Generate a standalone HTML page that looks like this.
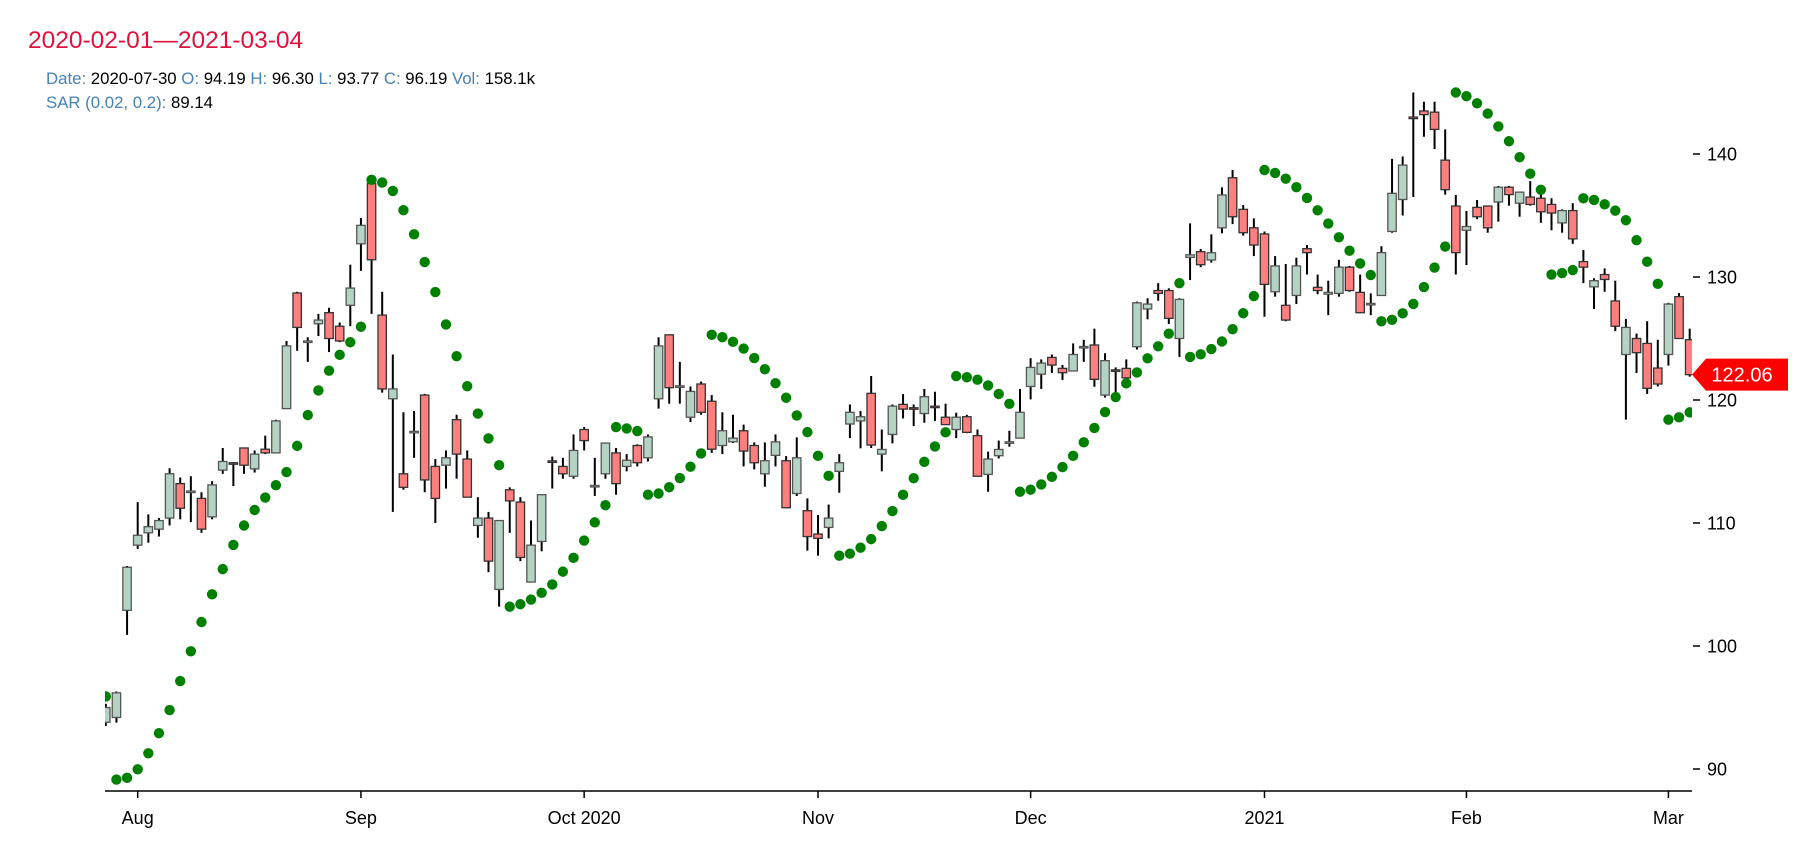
<!DOCTYPE html>
<html><head><meta charset="utf-8"><title>Candlestick chart with Parabolic SAR</title>
<style>
html,body{margin:0;padding:0;background:#fff;}
svg{display:block;font-family:"Liberation Sans",Arial,sans-serif;}
</style></head>
<body>
<svg id="chart" width="1798" height="842" viewBox="0 0 1798 842">
  <text x="28" y="48" font-size="24.5" fill="#dc143c">2020-02-01—2021-03-04</text>
  <text x="46" y="84" font-size="16.8"><tspan fill="#4682b4">Date: </tspan><tspan fill="#000">2020-07-30 </tspan><tspan fill="#4682b4">O: </tspan><tspan fill="#000">94.19 </tspan><tspan fill="#4682b4">H: </tspan><tspan fill="#000">96.30 </tspan><tspan fill="#4682b4">L: </tspan><tspan fill="#000">93.77 </tspan><tspan fill="#4682b4">C: </tspan><tspan fill="#000">96.19 </tspan><tspan fill="#4682b4">Vol: </tspan><tspan fill="#000">158.1k</tspan></text>
  <text x="46" y="108" font-size="16.8"><tspan fill="#4682b4">SAR (0.02, 0.2): </tspan><tspan fill="#000">89.14</tspan></text>
  <defs><clipPath id="plotClip"><rect x="105" y="60" width="1587" height="731"/></clipPath></defs>
  <g id="plot" clip-path="url(#plotClip)"></g>
  <g id="axes"></g>
</svg>
<script>
// ---- data ----
const startDate = "2020-07-29";
const holidays = ["2020-09-07","2020-11-26","2020-12-25","2021-01-01","2021-01-18","2021-02-15"];
const open = [93.8,94.19,102.9,
108.2,109.2,109.5,110.4,113.2,112.55,112.0,110.5,114.3,114.9,116.1,114.4,116.0,115.7,119.3,128.7,124.75,126.2,127.1,126.0,127.7,
132.7,137.6,126.9,120.1,114.0,117.35,120.4,114.6,114.7,118.4,115.2,109.8,110.4,104.6,112.7,111.7,105.2,108.5,115.05,114.6,113.8,
117.6,112.95,114.0,115.7,114.6,116.3,115.3,120.1,125.3,121.05,118.6,121.3,119.9,116.3,116.6,117.5,116.3,114.0,115.5,115.06,112.4,111.0,
109.1,109.64,114.2,118.05,118.3,120.54,115.6,117.2,119.64,119.37,118.9,119.5,118.6,117.6,118.64,117.1,113.95,115.47,116.55,116.9,
121.1,122.1,123.46,122.57,122.36,124.25,124.47,120.4,122.45,122.57,124.33,127.4,128.9,128.9,125.0,131.6,132.06,131.38,134.0,138.07,135.5,134.0,
133.5,128.8,127.7,128.5,132.3,129.16,128.6,128.67,130.8,128.75,127.75,128.5,133.7,136.3,143.0,143.5,143.4,139.5,135.77,
133.8,135.66,135.77,136.1,137.3,136.0,136.5,136.4,135.9,134.4,135.4,131.25,129.2,130.2,128.05,123.7,125.0,124.6,122.6,
123.7,128.4,124.9];
const high = [95.3,96.3,106.5,
111.7,110.7,110.4,114.45,113.7,113.8,112.5,113.4,116.1,114.95,116.1,115.9,117.1,118.4,124.8,128.8,125.1,127.0,127.5,126.3,131.0,
134.8,137.9,128.8,123.7,119.0,119.1,120.5,115.2,115.9,118.8,115.9,112.1,110.9,110.2,112.9,112.1,110.2,112.3,115.4,115.3,117.2,
117.8,115.3,116.5,116.1,115.6,116.4,117.2,125.1,125.3,123.1,121.1,121.5,120.4,119.0,118.8,118.0,116.55,116.55,117.2,115.44,116.96,112.0,
110.65,111.5,115.6,119.64,119.1,121.95,117.6,119.64,120.48,119.64,120.9,120.67,119.7,118.97,118.8,117.6,115.8,116.7,117.5,120.9,
123.4,123.3,123.7,122.85,124.6,124.9,125.8,123.8,122.65,123.3,128.0,128.27,129.5,129.08,128.27,134.36,132.28,133.47,137.29,138.7,135.85,134.77,
133.7,131.7,131.06,131.57,132.6,130.2,129.7,131.4,130.9,130.2,128.67,132.5,139.6,139.8,145.0,144.25,144.25,142.0,136.67,
135.37,136.26,135.77,137.4,137.4,136.9,137.8,136.8,136.4,135.5,136.0,132.2,129.9,130.7,129.7,126.6,125.4,126.4,124.9,
127.9,128.7,125.8];
const low = [93.5,93.77,100.9,
107.9,108.4,108.9,109.8,110.3,110.07,109.2,110.3,114.0,113.0,114.0,114.1,115.6,115.7,119.3,124.0,123.1,125.2,123.9,124.7,126.0,
130.5,127.0,120.6,110.9,112.7,115.3,112.5,110.0,112.8,113.6,112.1,108.8,106.0,103.2,109.2,106.9,105.2,107.7,112.8,113.6,113.6,
115.9,112.2,113.6,112.3,114.2,114.6,115.0,119.3,119.7,119.7,118.2,118.8,115.7,115.6,116.5,114.6,114.36,112.95,114.6,111.2,112.2,107.75,
107.34,108.75,112.46,116.9,116.07,116.1,114.2,116.47,118.5,117.88,118.15,118.3,118.0,116.9,117.3,113.8,112.54,115.25,116.2,116.9,
120.05,120.9,122.2,121.63,122.36,123.1,121.08,120.2,120.3,121.8,124.1,126.56,128.07,126.18,123.5,129.75,130.8,131.17,133.55,134.3,133.36,131.7,
126.77,128.4,126.4,127.8,130.2,128.6,126.9,128.4,128.8,127.05,126.9,128.5,133.6,135.0,136.5,141.4,140.4,136.7,130.2,
130.97,134.7,133.6,134.5,135.8,134.9,135.8,134.4,133.8,133.6,132.7,129.5,127.4,128.8,125.6,118.4,122.2,120.5,121.1,
122.8,125.0,121.9];
const close = [95.0,96.19,106.4,
109.0,109.7,110.2,114.0,111.2,112.6,109.5,113.1,115.0,114.85,114.7,115.6,115.7,118.3,124.4,125.9,124.8,126.5,125.0,124.8,129.1,
134.2,131.4,120.9,120.9,112.9,117.45,113.5,112.0,115.3,115.6,112.1,110.4,106.9,110.2,111.8,107.2,108.2,112.3,114.95,114.0,115.9,
116.7,113.05,116.5,113.2,115.1,114.9,117.0,124.4,121.0,121.15,120.7,119.0,116.0,117.5,116.9,115.85,114.9,115.06,116.6,111.24,115.3,108.9,
108.75,110.4,114.9,119.0,118.64,116.34,115.98,119.5,119.26,119.26,120.27,119.4,118.0,118.6,117.37,113.8,115.2,115.98,116.6,119.0,
122.65,123.0,122.84,122.22,123.7,124.35,121.68,123.2,122.4,121.8,127.9,127.8,128.67,126.64,128.18,131.8,131.0,131.97,136.67,134.9,133.6,132.6,
129.4,130.9,126.5,130.9,131.98,128.9,128.75,130.8,128.9,127.1,127.85,131.98,136.8,139.1,142.92,143.2,142.0,137.1,131.98,
134.1,134.9,134.0,137.3,136.7,136.9,135.9,135.3,135.2,135.4,133.1,130.8,129.7,129.8,126.0,125.9,123.85,120.95,121.3,
127.8,125.0,122.06];
const sarSeed = [95.9, 89.14];   // SAR on first two sessions (prior trend from outside the window)
const sarStep = 0.02, sarMax = 0.2;
const yTicks = [90,100,110,120,130,140];
const monthLabels = ["Aug","Sep","Oct 2020","Nov","Dec","2021","Feb","Mar"];

// ---- scales ----
const X0 = 137.7, DX = 10.63, FIRST_IDX = 3;
function xScale(i){ return X0 + (i - FIRST_IDX) * DX; }
function yScale(v){ return 154 + (140 - v) * 12.3; }

// ---- dates ----
const dates = [];
(function(){
  let d = new Date(startDate + "T12:00:00Z");
  while (dates.length < close.length) {
    const s = d.toISOString().slice(0,10);
    const wd = d.getUTCDay();
    if (wd !== 0 && wd !== 6 && holidays.indexOf(s) < 0) dates.push(s);
    d = new Date(d.getTime() + 86400000);
  }
})();

// ---- parabolic SAR (acceleration advances every bar, as in the source chart) ----
const sar = [sarSeed[0], sarSeed[1]];
(function(){
  let up = true, s = sarSeed[1], ep = high[1], af = sarStep;
  for (let i = 2; i < close.length; i++) {
    let ns = s + af * (ep - s);
    if (up) {
      if (low[i] < ns) { up = false; ns = Math.max(ep, high[i]); ep = low[i]; af = sarStep; }
      else { if (high[i] > ep) ep = high[i]; af = Math.min(af + sarStep, sarMax); }
    } else {
      if (high[i] > ns) { up = true; ns = Math.min(ep, low[i]); ep = high[i]; af = sarStep; }
      else { if (low[i] < ep) ep = low[i]; af = Math.min(af + sarStep, sarMax); }
    }
    s = ns; sar.push(s);
  }
})();

// ---- draw ----
const NS = "http://www.w3.org/2000/svg";
const plot = document.getElementById("plot");
const axes = document.getElementById("axes");
function mk(tag, attrs, parent){
  const e = document.createElementNS(NS, tag);
  for (const k in attrs) e.setAttribute(k, attrs[k]);
  parent.appendChild(e); return e;
}
const bw = 8.4;
for (let i = 0; i < close.length; i++) {
  const x = xScale(i);
  const g = mk("g", {}, plot);
  
  
  const w = mk("line", {x1:x, x2:x, y1:yScale(high[i]), y2:yScale(low[i]), stroke:"#000", "stroke-width":2}, g);
  
  
  const upC = close[i] >= open[i];
  const top = yScale(Math.max(open[i], close[i]));
  const h = Math.max(Math.abs(yScale(open[i]) - yScale(close[i])), 1.5);
  const r = mk("rect", {x:x - bw/2, y:top, width:bw, height:h,
    fill: upC ? "#b5d3c4" : "#ff7f7f",
    stroke: upC ? "#555" : "#333", "stroke-width":1.3}, g);
  
  
}
for (let i = 0; i < sar.length; i++) {
  const c = mk("circle", {cx:xScale(i), cy:yScale(sar[i]), r:5.2, fill:"#008000"}, plot);
  
  
}

// x axis
const xl = mk("line", {x1:105, x2:1692, y1:791, y2:791, stroke:"#000", "stroke-width":1.5}, axes);


let mi = 0;
for (let i = 1; i < dates.length; i++) {
  if (dates[i].slice(5,7) !== dates[i-1].slice(5,7)) {
    const x = xScale(i);
    const t = mk("line", {x1:x, x2:x, y1:791, y2:798, stroke:"#000", "stroke-width":1.5}, axes);
    
    
    const lb = mk("text", {x:x, y:824, "font-size":18, "text-anchor":"middle", fill:"#000"}, axes);
    lb.textContent = monthLabels[mi++] || "";
    
    
  }
}
// y axis
yTicks.forEach(v => {
  const y = yScale(v);
  const t = mk("line", {x1:1693, x2:1700, y1:y, y2:y, stroke:"#000", "stroke-width":1.5}, axes);
  
  
  const lb = mk("text", {x:1707, y:y + 6.5, "font-size":18, fill:"#000"}, axes);
  lb.textContent = v;
  
  
});
// last price label
const lastV = close[close.length - 1];
const ly = yScale(lastV);
const pl = mk("path", {d:`M1692 ${ly} L1706 ${ly-16} L1788 ${ly-16} L1788 ${ly+16} L1706 ${ly+16} Z`, fill:"#ff0000"}, axes);


const pt = mk("text", {x:1742, y:ly + 7, "font-size":20, "text-anchor":"middle", fill:"#fff"}, axes);
pt.textContent = lastV.toFixed(2);


</script>
</body></html>
